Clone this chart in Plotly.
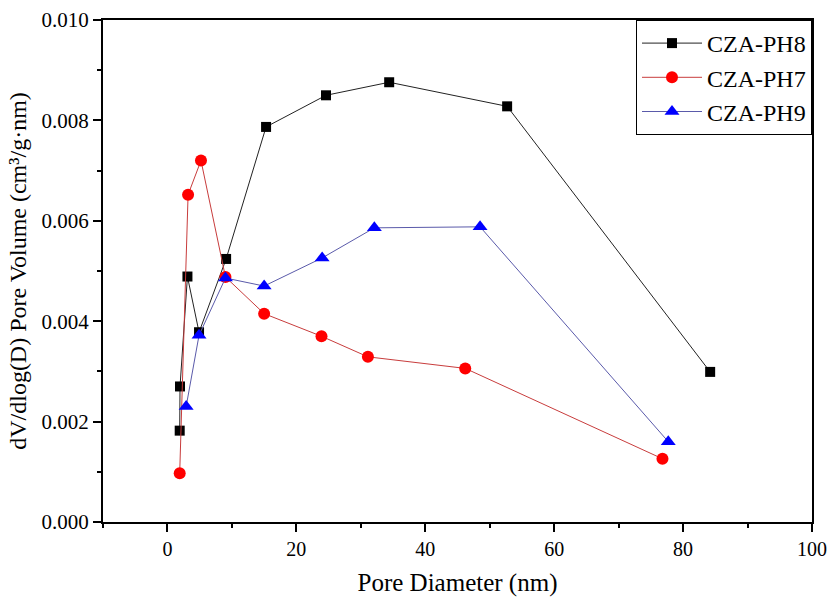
import plotly.graph_objects as go

# CZA-PH8 (black squares)
ph8_x = [1.9, 1.95, 3.1, 4.9, 9.1, 15.3, 24.6, 34.4, 52.7, 84.2]
ph8_y = [0.00182, 0.00270, 0.00489, 0.00378, 0.00524, 0.00787, 0.00850, 0.00876, 0.00828, 0.00299]

# CZA-PH7 (red circles)
ph7_x = [1.9, 3.2, 5.2, 9.0, 15.0, 23.9, 31.1, 46.2, 76.8]
ph7_y = [0.00097, 0.00652, 0.00720, 0.00488, 0.00415, 0.00370, 0.00329, 0.00306, 0.00126]

# CZA-PH9 (blue triangles)
ph9_x = [2.9, 4.9, 9.0, 15.0, 24.0, 32.1, 48.5, 77.7]
ph9_y = [0.00230, 0.00372, 0.00486, 0.00470, 0.00526, 0.00586, 0.00588, 0.00160]

font_family = "Liberation Serif, Times New Roman, serif"

fig = go.Figure()
fig.add_trace(go.Scatter(x=ph8_x, y=ph8_y, name="CZA-PH8", mode="lines+markers",
                         line=dict(color="#222222", width=1),
                         marker=dict(symbol="square", size=10, color="black")))
fig.add_trace(go.Scatter(x=ph7_x, y=ph7_y, name="CZA-PH7", mode="lines+markers",
                         line=dict(color="#c83c3c", width=1),
                         marker=dict(symbol="circle", size=12, color="#ff0000")))
fig.add_trace(go.Scatter(x=ph9_x, y=ph9_y, name="CZA-PH9", mode="lines+markers",
                         line=dict(color="#5a5aaa", width=1),
                         marker=dict(symbol="triangle-up", size=13, color="#0000ff")))

fig.update_layout(
    width=829, height=599,
    margin=dict(l=103, r=17, t=20, b=77, autoexpand=False),
    paper_bgcolor="white", plot_bgcolor="white",
    font=dict(family=font_family, size=20, color="black"),
    showlegend=True,
    legend=dict(x=1, y=1, xanchor="right", yanchor="top",
                bgcolor="white", bordercolor="black", borderwidth=1,
                font=dict(family=font_family, size=24, color="black"),
                tracegroupgap=0, itemwidth=60),
)
fig.update_xaxes(
    range=[-10, 100], tickvals=[0, 20, 40, 60, 80, 100],
    ticks="outside", ticklen=8, tickwidth=1.5, tickcolor="black",
    ticklabeloverflow="allow", automargin=False,
    minor=dict(tickvals=[-10, 10, 30, 50, 70, 90], ticks="outside", ticklen=4, tickwidth=1.5, tickcolor="black"),
    showline=True, linecolor="black", linewidth=2, mirror=True,
    showgrid=False, zeroline=False,
    title=dict(text="Pore Diameter (nm)", font=dict(family=font_family, size=25), standoff=14),
    tickfont=dict(family=font_family, size=20),
)
fig.update_yaxes(
    range=[0, 0.010], tickvals=[0, 0.002, 0.004, 0.006, 0.008, 0.010],
    ticktext=["0.000", "0.002", "0.004", "0.006", "0.008", "0.010"],
    ticks="outside", ticklen=8, tickwidth=1.5, tickcolor="black",
    ticklabeloverflow="allow", automargin=False,
    minor=dict(tickvals=[0.001, 0.003, 0.005, 0.007, 0.009], ticks="outside", ticklen=4, tickwidth=1.5, tickcolor="black"),
    showline=True, linecolor="black", linewidth=2, mirror=True,
    showgrid=False, zeroline=False,
    title=dict(text="dV/dlog(D) Pore Volume (cm³/g·nm)", font=dict(family=font_family, size=24), standoff=8),
    tickfont=dict(family=font_family, size=21),
)

fig.write_html("out.html")
